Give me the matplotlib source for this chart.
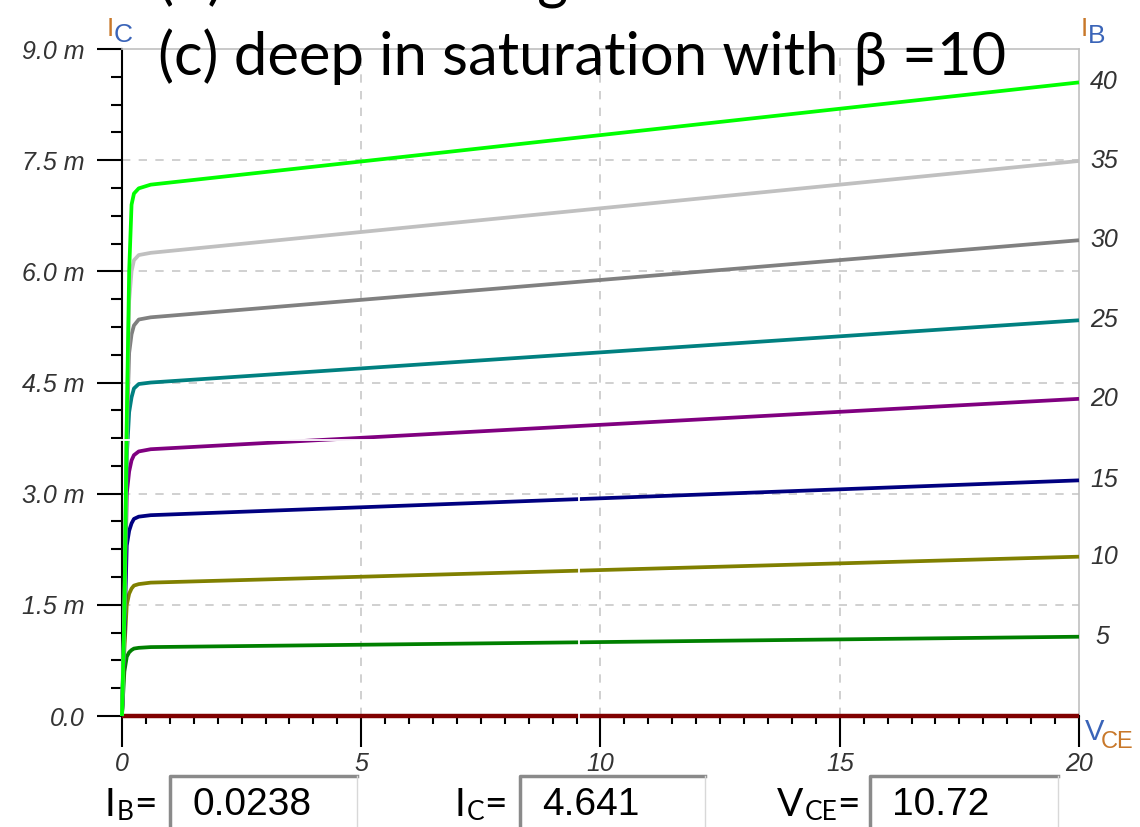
# encoding=utf-8
'''
transistor output curves Ic(Vce) for several Ib
'''
import numpy as np
import matplotlib
matplotlib.use('Agg')
import matplotlib.pyplot as plt

# data (Ic in mA)
vce = [0, 0.05, 0.1, 0.15, 0.2, 0.25, 0.35, 0.6, 20]
ib_labels = ['40', '35', '30', '25', '20', '15', '10', '5', '']
ic_40 = [0, 1.4, 4.0, 6.0, 6.9, 7.05, 7.12, 7.17, 8.55]
ic_35 = [0, 1.4, 3.9, 5.6, 6.0, 6.15, 6.22, 6.25, 7.49]
ic_30 = [0, 1.3, 3.8, 4.9, 5.15, 5.27, 5.35, 5.38, 6.42]
ic_25 = [0, 1.3, 3.5, 4.1, 4.3, 4.42, 4.48, 4.5, 5.34]
ic_20 = [0, 1.2, 3.0, 3.3, 3.45, 3.52, 3.57, 3.6, 4.28]
ic_15 = [0, 1.1, 2.3, 2.5, 2.6, 2.66, 2.69, 2.71, 3.18]
ic_10 = [0, 0.9, 1.5, 1.65, 1.72, 1.76, 1.78, 1.8, 2.15]
ic_5 = [0, 0.6, 0.8, 0.86, 0.89, 0.91, 0.92, 0.93, 1.07]
ic_0 = [0, 0, 0, 0, 0, 0, 0, 0, 0]
curves = [ic_40, ic_35, ic_30, ic_25, ic_20, ic_15, ic_10, ic_5, ic_0]
colors = ['#00ff00', '#c0c0c0', '#808080', '#008080', '#800080',
          '#000080', '#808000', '#008000', '#800000']

y_ticks = [0, 1.5, 3.0, 4.5, 6.0, 7.5, 9.0]
y_tick_labels = ['0.0', '1.5 m', '3.0 m', '4.5 m', '6.0 m', '7.5 m', '9.0 m']
x_ticks = [0, 5, 10, 15, 20]
x_tick_labels = ['0', '5', '10', '15', '20']

# cursor readout
cursor_v = 9.55
cursor_i = 3.72
ib_value = '0.0238'
ic_value = '4.641'
vce_value = '10.72'

tick_font = 'Liberation Sans'
orange = '#c8782a'
blue = '#3a64b8'

fig = plt.figure(figsize=(11.4, 8.27), dpi=100)
ax = fig.add_axes([0.107, 0.1342, 0.8395, 0.8065])
ax.set_xlim(0, 20)
ax.set_ylim(0, 9)

# grid
for y in y_ticks[1:-1]:
    ax.axhline(y, color='#c8c8c8', lw=1.2, ls=(0, (5, 5)), zorder=1)
for x in x_ticks[1:-1]:
    ax.axvline(x, color='#c8c8c8', lw=1.2, ls=(0, (5, 5)), zorder=1)

# curves, green on top
for i in range(len(curves) - 1, -1, -1):
    lw = 3.2 if i == len(curves) - 1 else 2.7
    ax.plot(vce, curves[i], color=colors[i], lw=lw, zorder=3 + len(curves) - i,
            clip_on=False, solid_capstyle='butt')

# cursor lines (white gap)
ax.plot([-0.2, cursor_v], [cursor_i, cursor_i], color='white', lw=1.3, zorder=20, clip_on=False)
ax.plot([cursor_v, cursor_v], [cursor_i, -0.05], color='white', lw=1.3, zorder=20, clip_on=False)

# spines and ticks
ax.spines['left'].set_color('black')
ax.spines['left'].set_linewidth(1.5)
ax.spines['bottom'].set_color('black')
ax.spines['bottom'].set_linewidth(1.5)
ax.spines['top'].set_color('#c0c0c0')
ax.spines['right'].set_color('#c0c0c0')
ax.spines['top'].set_linewidth(1.2)
ax.spines['right'].set_linewidth(1.2)

ax.set_yticks(y_ticks)
ax.set_yticklabels(y_tick_labels, fontsize=18, fontstyle='italic', family=tick_font, color='#333333')
ax.set_yticks(np.arange(0, 9.01, 0.375), minor=True)
ax.set_xticks(x_ticks)
ax.set_xticklabels(x_tick_labels, fontsize=18, fontstyle='italic', family=tick_font, color='#333333')
ax.set_xticks(np.arange(0, 20.01, 0.5), minor=True)
ax.tick_params(axis='y', which='major', length=18, width=1.5, pad=9)
ax.tick_params(axis='y', which='minor', length=8, width=1.5)
ax.tick_params(axis='x', which='major', length=22, width=1.5, pad=4)
ax.tick_params(axis='x', which='minor', length=6, width=1.5)

# Ib labels on the right
for i in range(len(curves)):
    if ib_labels[i]:
        off = 8 if len(ib_labels[i]) > 1 else 12
        ax.annotate(ib_labels[i], (20, curves[i][-1]), xytext=(off, 0),
                    textcoords='offset points', va='center', ha='left',
                    fontsize=18, fontstyle='italic', family=tick_font, color='#333333')

# axis names
fig.text(107 / 1140, 1 - 36 / 827, 'I', color=orange, fontsize=19, family=tick_font, va='baseline')
fig.text(114 / 1140, 1 - 42 / 827, 'C', color=blue, fontsize=19, family=tick_font, va='baseline')
fig.text(1081 / 1140, 1 - 36 / 827, 'I', color=orange, fontsize=19, family=tick_font, va='baseline')
fig.text(1088 / 1140, 1 - 43 / 827, 'B', color=blue, fontsize=19, family=tick_font, va='baseline')
fig.text(1085 / 1140, 1 - 740 / 827, 'V', color=blue, fontsize=21, family=tick_font, va='baseline')
fig.text(1101 / 1140, 1 - 748 / 827, 'CE', color=orange, fontsize=17, family=tick_font, va='baseline')

# title (plus the clipped line above it)
fig.text(158 / 1140, 1 - 75 / 827, '(c) deep in saturation with β =10',
         fontsize=43, family='Lato', color='black', va='baseline')
fig.text(158 / 1140, 1 + 2 / 827, '(b) near the edge of saturation',
         fontsize=43, family='Lato', color='black', va='baseline')

# readout boxes
boxes = [(105, 170, 357, 'I', 'B', ib_value),
         (455, 520, 705, 'I', 'C', ic_value),
         (777, 870, 1058, 'V', 'CE', vce_value)]
for lx, bx0, bx1, main, sub, val in boxes:
    t = fig.text(lx / 1140, 1 - 816 / 827, main, fontsize=28, family='Lato', va='baseline')
    fig.canvas.draw()
    w = t.get_window_extent().width
    s = fig.text((lx + w + 1) / 1140, 1 - 820 / 827, sub, fontsize=19, family='Lato', va='baseline')
    ws = s.get_window_extent().width
    fig.text((lx + w + ws + 1) / 1140, 1 - 816 / 827, '=', fontsize=28, family='Lato', va='baseline')
    # sunken box
    fig.add_artist(plt.Line2D([bx0 / 1140, bx0 / 1140, bx1 / 1140], [-0.01, 1 - 776 / 827, 1 - 776 / 827],
                              color='#8a8a8a', lw=2.5, transform=fig.transFigure))
    fig.add_artist(plt.Line2D([bx1 / 1140, bx1 / 1140], [1 - 776 / 827, -0.01],
                              color='#d8d8d8', lw=1, transform=fig.transFigure))
    fig.text((bx0 + 22) / 1140, 1 - 815 / 827, val, fontsize=28, family='Liberation Sans', va='baseline')

fig.savefig('out.png', dpi=100)
